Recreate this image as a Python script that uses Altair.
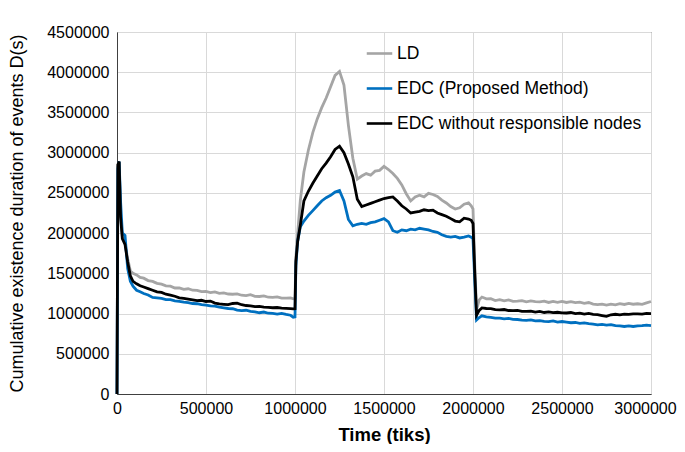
import altair as alt
import pandas as pd

SERIES = ["LD", "EDC (Proposed Method)", "EDC without responsible nodes"]
COLORS = ["#A5A5A5", "#0070C0", "#000000"]

# time points (tiks), in four segments
X_A = [0, 5000, 12000, 20000, 30000, 45000, 60000, 75000, 90000, 110000, 130000, 150000, 175000, 200000]
X_B = [225000, 250000, 275000, 300000, 325000, 350000, 375000, 400000, 425000, 450000, 475000,
       500000, 525000, 550000, 575000, 600000, 625000, 650000, 675000, 700000, 725000,
       750000, 775000, 800000, 825000, 850000, 875000, 900000, 925000, 950000, 975000,
       990000, 1000000]
X_C = [1005000, 1015000, 1030000, 1050000, 1075000, 1100000, 1125000, 1150000, 1175000, 1200000,
       1225000, 1250000, 1275000, 1300000, 1325000, 1350000, 1375000, 1400000, 1425000, 1450000,
       1475000, 1500000, 1525000, 1550000, 1575000, 1600000, 1625000, 1650000, 1675000, 1700000,
       1725000, 1750000, 1775000, 1800000, 1825000, 1850000, 1875000, 1900000, 1925000, 1950000,
       1975000, 1990000, 2000000]
X_D = [2010000, 2020000, 2035000, 2050000, 2075000, 2100000, 2125000, 2150000, 2175000, 2200000,
       2225000, 2250000, 2275000, 2300000, 2325000, 2350000, 2375000, 2400000, 2425000, 2450000,
       2475000, 2500000, 2525000, 2550000, 2575000, 2600000, 2625000, 2650000, 2675000, 2700000,
       2725000, 2750000, 2775000, 2800000, 2825000, 2850000, 2875000, 2900000, 2925000, 2950000,
       2975000, 3000000]

LD_A = [0, 2850000, 2880000, 2250000, 1960000, 1880000, 1680000, 1530000, 1500000, 1480000, 1450000, 1440000, 1410000, 1400000]
LD_B = [1375000, 1365000, 1345000, 1340000, 1318000, 1320000, 1300000, 1308000, 1290000, 1288000, 1272000,
        1274000, 1260000, 1270000, 1252000, 1256000, 1243000, 1240000, 1245000, 1228000, 1224000,
        1234000, 1214000, 1212000, 1220000, 1203000, 1200000, 1207000, 1193000, 1192000, 1194000,
        1183000, 1190000]
LD_C = [1700000, 2000000, 2410000, 2760000, 3030000, 3250000, 3420000, 3560000, 3680000, 3820000,
        3960000, 4010000, 3840000, 3340000, 2930000, 2670000, 2710000, 2740000, 2720000, 2770000,
        2780000, 2830000, 2790000, 2740000, 2680000, 2600000, 2490000, 2400000, 2450000, 2470000,
        2450000, 2495000, 2480000, 2455000, 2410000, 2375000, 2330000, 2300000, 2315000, 2360000,
        2375000, 2340000, 2300000]
LD_D = [1600000, 1050000, 1170000, 1205000, 1182000, 1185000, 1162000, 1172000, 1158000, 1170000,
        1152000, 1154000, 1160000, 1145000, 1157000, 1148000, 1146000, 1155000, 1138000, 1150000,
        1140000, 1152000, 1138000, 1147000, 1136000, 1142000, 1128000, 1137000, 1118000, 1110000,
        1117000, 1104000, 1116000, 1108000, 1122000, 1113000, 1126000, 1116000, 1122000, 1114000,
        1132000, 1150000]

EDC_A = [0, 2800000, 2890000, 2400000, 2000000, 1970000, 1560000, 1400000, 1340000, 1290000, 1270000, 1250000, 1230000, 1200000]
EDC_B = [1195000, 1188000, 1172000, 1172000, 1158000, 1152000, 1142000, 1137000, 1125000, 1122000, 1110000,
         1106000, 1096000, 1092000, 1080000, 1072000, 1063000, 1060000, 1043000, 1036000, 1041000,
         1026000, 1022000, 1010000, 1019000, 1004000, 1001000, 994000, 1003000, 989000, 979000,
         955000, 960000]
EDC_C = [1600000, 1900000, 2080000, 2150000, 2220000, 2280000, 2340000, 2400000, 2440000, 2470000,
         2510000, 2530000, 2400000, 2170000, 2090000, 2110000, 2120000, 2110000, 2130000, 2140000,
         2160000, 2180000, 2140000, 2030000, 2010000, 2040000, 2030000, 2050000, 2040000, 2060000,
         2050000, 2040000, 2020000, 2010000, 1980000, 1960000, 1950000, 1960000, 1940000, 1950000,
         1965000, 1950000, 1930000]
EDC_D = [1400000, 920000, 950000, 972000, 958000, 952000, 943000, 942000, 933000, 941000,
         928000, 926000, 918000, 916000, 921000, 908000, 913000, 904000, 899000, 909000,
         894000, 901000, 893000, 886000, 889000, 879000, 883000, 874000, 869000, 859000,
         866000, 857000, 863000, 849000, 846000, 839000, 846000, 839000, 846000, 849000,
         856000, 850000]

NRN_A = [0, 2850000, 2890000, 2200000, 1930000, 1860000, 1640000, 1470000, 1400000, 1370000, 1345000, 1330000, 1310000, 1290000]
NRN_B = [1270000, 1262000, 1240000, 1230000, 1215000, 1195000, 1190000, 1180000, 1170000, 1160000, 1165000,
         1150000, 1155000, 1130000, 1120000, 1115000, 1110000, 1125000, 1130000, 1110000, 1100000,
         1095000, 1085000, 1088000, 1080000, 1078000, 1072000, 1075000, 1068000, 1065000, 1062000,
         1058000, 1060000]
NRN_C = [1650000, 1900000, 2100000, 2400000, 2520000, 2620000, 2710000, 2800000, 2870000, 2950000,
         3040000, 3080000, 3000000, 2860000, 2700000, 2420000, 2330000, 2350000, 2370000, 2390000,
         2410000, 2430000, 2440000, 2450000, 2400000, 2340000, 2300000, 2250000, 2260000, 2270000,
         2290000, 2280000, 2285000, 2250000, 2230000, 2210000, 2180000, 2150000, 2140000, 2185000,
         2175000, 2160000, 2120000]
NRN_D = [1500000, 980000, 1040000, 1070000, 1063000, 1062000, 1048000, 1047000, 1050000, 1038000,
         1036000, 1040000, 1028000, 1027000, 1031000, 1018000, 1026000, 1013000, 1021000, 1011000,
         1016000, 1009000, 1007000, 1013000, 999000, 1006000, 994000, 1001000, 989000, 986000,
         975000, 965000, 985000, 991000, 984000, 993000, 989000, 996000, 997000, 993000,
         1001000, 1000000]

X_TICKS = [0, 500000, 1000000, 1500000, 2000000, 2500000, 3000000]
Y_TICKS = [0, 500000, 1000000, 1500000, 2000000, 2500000, 3000000, 3500000, 4000000, 4500000]

times = X_A + X_B + X_C + X_D
values = {
    SERIES[0]: LD_A + LD_B + LD_C + LD_D,
    SERIES[1]: EDC_A + EDC_B + EDC_C + EDC_D,
    SERIES[2]: NRN_A + NRN_B + NRN_C + NRN_D,
}
rows = []
for name in SERIES:
    assert len(values[name]) == len(times), (name, len(values[name]), len(times))
    for t, v in zip(times, values[name]):
        rows.append({"time": t, "value": v, "series": name})
df = pd.DataFrame(rows)

FONT = "Liberation Sans"

color = alt.Color(
    "series:N",
    scale=alt.Scale(domain=SERIES, range=COLORS),
    legend=alt.Legend(
        title=None, orient="none", legendX=248, legendY=7,
        symbolType="stroke", symbolStrokeWidth=2.6, symbolSize=650,
        labelFontSize=17.5, labelFont=FONT, labelColor="#000000",
        rowPadding=12, labelOffset=3, labelLimit=400,
    ),
)
x = alt.X("time:Q", scale=alt.Scale(domain=[0, 3000000], nice=False),
          axis=alt.Axis(values=X_TICKS, format="d", title="Time (tiks)",
                        titleFontSize=18.5, titleFontWeight="bold", titlePadding=9,
                        labelPadding=6, labelFlush=False, labelOverlap=False,
                        labelOffset={"condition": {"test": "datum.value == 3000000", "value": -6},
                                     "value": 0}))
y = alt.Y("value:Q", scale=alt.Scale(domain=[0, 4500000], nice=False),
          axis=alt.Axis(values=Y_TICKS, format="d",
                        title="Cumulative existence duration of events D(s)",
                        titleFontSize=18, titleFontWeight="normal", titlePadding=20,
                        labelPadding=8, labelFlush=False, labelOverlap=False))

layers = []
for name in SERIES:
    layers.append(
        alt.Chart(df).transform_filter(alt.datum.series == name)
        .mark_line(strokeWidth=2.8)
        .encode(x=x, y=y, color=color)
    )

chart = alt.layer(*layers).properties(
    width=534, height=362,
    autosize=alt.AutoSizeParams(type="none"),
    padding={"left": 109, "top": 24, "right": 26, "bottom": 50},
).configure_view(
    stroke="#404040", strokeWidth=1
).configure_axis(
    labelFont=FONT, titleFont=FONT, labelFontSize=16, labelColor="#000000",
    titleColor="#000000", ticks=False, domainColor="#404040", domainWidth=1,
    gridColor="#D9D9D9", gridWidth=1,
)

chart.save("out.html", embed_options={"renderer": "svg", "actions": False})
